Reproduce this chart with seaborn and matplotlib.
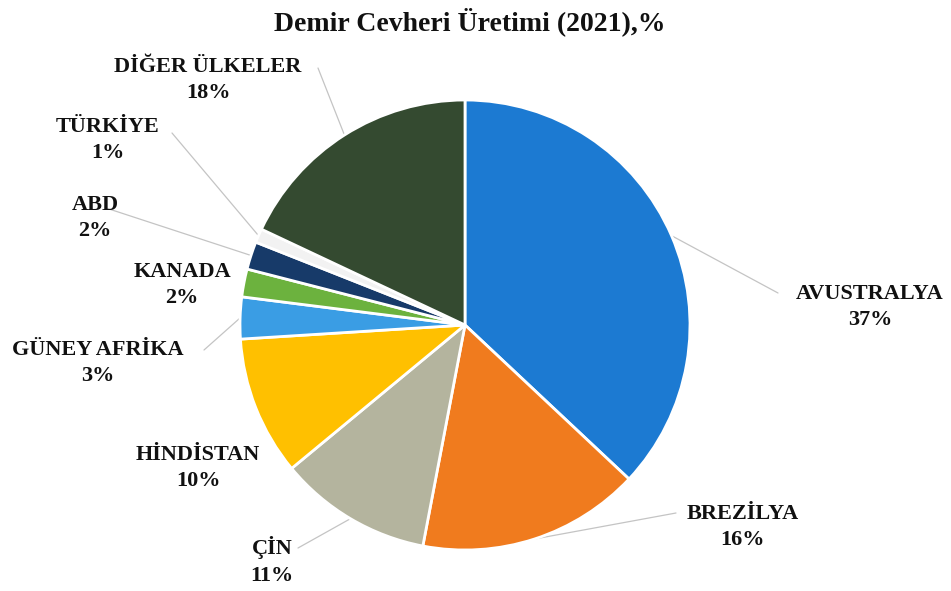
import matplotlib.pyplot as plt
import numpy as np
import seaborn as sns

countries = ["AVUSTRALYA", "BREZİLYA", "ÇİN", "HİNDİSTAN", "GÜNEY AFRİKA",
             "KANADA", "ABD", "TÜRKİYE", "DİĞER ÜLKELER"]
shares = [37, 16, 11, 10, 3, 2, 2, 1, 18]
colors = ["#1c7ad2", "#f07b1e", "#b4b49e", "#ffc000", "#3a9de4",
          "#6cb23e", "#173a69", "#f2f2f2", "#344a30"]
title = "Demir Cevheri Üretimi (2021),%"

# layout: label centres and leader-line starts, in reference pixels (origin top-left)
label_px = [(870, 307), (743, 527), (272, 561), (198, 468), (98, 363),
            (182, 285), (95, 218), (108, 140), (208, 80)]
leader_px = [(778, 293), (676, 513), (298, 548), None, (204, 350),
             None, (106, 208), (172, 133), (318, 68)]

W, H = 951, 591
CX, CY, R = 465, 325, 225


def px(p):
    return (p[0] - CX) / R, (CY - p[1]) / R


sns.set_theme(style="white")
plt.rcParams["font.family"] = ["Liberation Serif", "DejaVu Serif"]

fig = plt.figure(figsize=(W / 100, H / 100), dpi=100)
ax = fig.add_axes([0, 0, 1, 1])

wedges, _ = ax.pie(shares, colors=sns.color_palette(colors), startangle=90,
                   counterclock=False, radius=1, center=(0, 0),
                   wedgeprops=dict(edgecolor="white", linewidth=2, zorder=3))

for w, name, val, lp, ld in zip(wedges, countries, shares, label_px, leader_px):
    x, y = px(lp)
    ax.text(x, y, f"{name}\n{val}%", ha="center", va="center", fontsize=16,
            fontweight="bold", linespacing=1.45, color="#111111", zorder=5)
    if ld is not None:
        ang = np.deg2rad((w.theta1 + w.theta2) / 2)
        sx, sy = px(ld)
        ax.plot([sx, np.cos(ang)], [sy, np.sin(ang)], color="#c4c4c4",
                lw=0.9, zorder=1)

tx, ty = px((470, 22))
ax.text(tx, ty, title, ha="center", va="center", fontsize=20,
        fontweight="bold", color="#111111")

ax.set_xlim(-CX / R, (W - CX) / R)
ax.set_ylim((CY - H) / R, CY / R)
ax.set_aspect("auto")
ax.axis("off")

fig.savefig("out.png", dpi=100, facecolor="white")
